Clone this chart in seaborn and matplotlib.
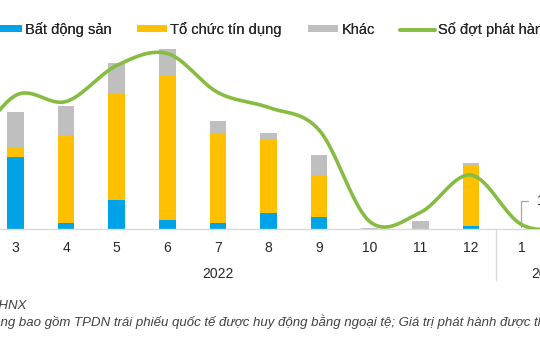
import numpy as np
import pandas as pd
import matplotlib
matplotlib.use("Agg")
import matplotlib.pyplot as plt
import seaborn as sns
from matplotlib import transforms
from matplotlib.patches import Patch
from matplotlib.lines import Line2D

# ---------------- data ----------------
periods = ["2/2022", "3/2022", "4/2022", "5/2022", "6/2022", "7/2022", "8/2022",
           "9/2022", "10/2022", "11/2022", "12/2022", "1/2023", "2/2023"]
month_labels = ["2", "3", "4", "5", "6", "7", "8", "9", "10", "11", "12", "1", "2"]
year_of_period = ["2022"] * 11 + ["2023"] * 2
years = ["2022", "2023"]

bat_dong_san = [3.0, 20.0, 1.6, 8.1, 2.5, 1.6, 4.4, 3.2, 0.0, 0.0, 0.7, 0.0, 0.0]
to_chuc_tin_dung = [3.0, 2.5, 24.4, 29.4, 39.9, 25.1, 20.7, 11.9, 0.0, 0.0, 16.8, 0.0, 0.0]
khac = [2.0, 10.0, 8.1, 8.6, 7.6, 3.4, 1.7, 5.4, 0.3, 2.3, 0.9, 0.1, 0.0]
so_dot = [47, 89, 85, 109, 117, 91, 81, 66, 5, 11, 36, 3, 0]

series_names = ["Bất động sản", "Tổ chức tín dụng", "Khác", "Số đợt phát hành"]
jan_label = "1"
source_text = "Nguồn: HNX"
note_prefix = "Ghi chú: Khô"
note_text = ("Ghi chú: Không bao gồm TPDN trái phiếu quốc tế được huy động bằng ngoại tệ; "
             "Giá trị phát hành được thống kê theo ngày phát hành")

# ---------------- style ----------------
C_BLUE = "#00A3E8"
C_ORANGE = "#FFC000"
C_GRAY = "#BFBFBF"
C_GREEN = "#86BC42"
C_AXIS = "#D9D9D9"
C_TEXT = "#262626"

sns.set_theme(style="white")
plt.rcParams["font.family"] = ["Liberation Sans", "DejaVu Sans"]

W, H = 540, 360
fig = plt.figure(figsize=(W / 100, H / 100), dpi=100)
fig.patch.set_facecolor("white")

base_px = 229
top_px = 40
left_px = -60.4
right_px = 597.4
ax = fig.add_axes([left_px / W, (H - base_px) / H, (right_px - left_px) / W,
                   (base_px - top_px) / H])
ax.set_facecolor("none")

df = pd.DataFrame({
    "period": periods,
    "bds": bat_dong_san,
    "tctd": to_chuc_tin_dung,
    "khac": khac,
    "dot": so_dot,
})
df["b2"] = df["bds"]
df["b3"] = df["bds"] + df["tctd"]

bw = 0.326
common = dict(x="period", order=periods, width=bw, saturation=1, errorbar=None,
              linewidth=0, ax=ax)
sns.barplot(data=df, y="bds", color=C_BLUE, **common)
sns.barplot(data=df, y="tctd", color=C_ORANGE, bottom=df["b2"].values, **common)
sns.barplot(data=df, y="khac", color=C_GRAY, bottom=df["b3"].values, **common)

# smoothed line (Catmull-Rom rendering of the read points)
def catmull_rom(y, n=40):
    y = np.asarray(y, dtype=float)
    x = np.arange(len(y), dtype=float)
    m = np.zeros_like(y)
    m[1:-1] = (y[2:] - y[:-2]) / 2.0
    m[0] = y[1] - y[0]
    m[-1] = y[-1] - y[-2]
    xs, ys = [], []
    for i in range(len(y) - 1):
        t = np.linspace(0, 1, n, endpoint=False)
        h00 = 2 * t**3 - 3 * t**2 + 1
        h10 = t**3 - 2 * t**2 + t
        h01 = -2 * t**3 + 3 * t**2
        h11 = t**3 - t**2
        ys.append(h00 * y[i] + h10 * m[i] + h01 * y[i + 1] + h11 * m[i + 1])
        xs.append(x[i] + t)
    xs.append([x[-1]])
    ys.append([y[-1]])
    return np.concatenate(xs), np.concatenate(ys)

ax2 = ax.twinx()
ax2.set_facecolor("none")
xs, ys = catmull_rom(df["dot"].values)
sns.lineplot(x=xs, y=ys, sort=False, color=C_GREEN, linewidth=2.6, ax=ax2,
             solid_capstyle="round")

ax.set_xlim(-0.5, len(periods) - 0.5)
ax.set_ylim(0, (base_px - top_px) / 3.6)
ax2.set_ylim(0, (base_px - top_px) / 1.5)
ax2.set_xlim(-0.5, len(periods) - 0.5)

# axes cosmetics
for a in (ax, ax2):
    for s in ("top", "left", "right"):
        a.spines[s].set_visible(False)
    a.set_yticks([])
    a.set_ylabel("")
ax2.spines["bottom"].set_visible(False)
ax.spines["bottom"].set_color(C_AXIS)
ax.spines["bottom"].set_linewidth(1.0)
ax.set_xlabel("")
ax.set_xticks(range(len(periods)))
ax.set_xticklabels(month_labels)
ax.tick_params(axis="x", length=0, pad=8.5, labelsize=10, labelcolor=C_TEXT)

# year group labels and separators
ax_h = base_px - top_px
blend = transforms.blended_transform_factory(ax.transData, ax.transAxes)
for yr in years:
    idx = [i for i, v in enumerate(year_of_period) if v == yr]
    ax.text(np.mean(idx), -44.5 / ax_h, yr, transform=blend, ha="center", va="center",
            fontsize=10, color=C_TEXT)
    ax.plot([idx[0] - 0.5, idx[0] - 0.5], [0, -51 / ax_h], transform=blend,
            clip_on=False, color=C_AXIS, lw=1)

# data label callout for January 2023
jan_i = periods.index("1/2023")
ax.annotate(jan_label, xy=(jan_i, bat_dong_san[jan_i] + to_chuc_tin_dung[jan_i] + khac[jan_i] + 0.4),
            xytext=(11, 19), textcoords="offset points", ha="left", va="center",
            fontsize=10, color=C_TEXT,
            arrowprops=dict(arrowstyle="-", color="#A6A6A6", lw=0.9, shrinkA=4, shrinkB=0,
                            connectionstyle="angle,angleA=180,angleB=90,rad=0"),
            annotation_clip=False)

# legend: one entry per anchor, placed like the reference
handles = [Patch(facecolor=C_BLUE, edgecolor="none"),
           Patch(facecolor=C_ORANGE, edgecolor="none"),
           Patch(facecolor=C_GRAY, edgecolor="none"),
           Line2D([0], [0], color=C_GREEN, lw=2.6)]
leg_x = [-8.3, 136.7, 308.3, 400.0]
leg_len = [30, 30, 30, 35]
fs_leg = 10.5
em = fs_leg * 100 / 72
for h_, name, x0, hl in zip(handles, series_names, leg_x, leg_len):
    lg = fig.legend([h_], [name], loc="center left",
                    bbox_to_anchor=(x0 / W, 1 - 29.5 / H), frameon=False,
                    handlelength=hl / em, handleheight=0.36, handletextpad=3.3 / em,
                    borderaxespad=0, borderpad=0, fontsize=fs_leg, labelcolor=C_TEXT)
    fig.add_artist(lg)

# footnotes
fs_note = 9.5
fig.text(26 / W, 1 - 305 / H, source_text, ha="right", va="center", fontsize=fs_note,
         style="italic", color="#404040")
renderer = fig.canvas.get_renderer()
tmp = fig.text(0, 0, note_prefix, fontsize=fs_note, style="italic")
pw = tmp.get_window_extent(renderer).width
tmp.remove()
fig.text((0 - pw) / W, 1 - 322 / H, note_text, ha="left", va="center", fontsize=fs_note,
         style="italic", color="#404040")

fig.savefig("out.png", dpi=100, facecolor="white")
